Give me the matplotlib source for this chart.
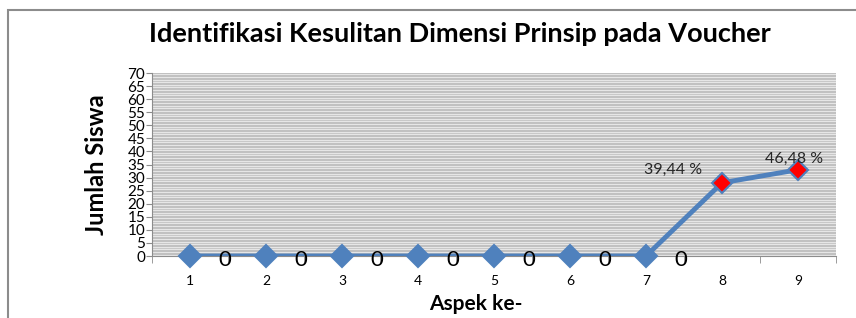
import matplotlib
matplotlib.use("Agg")
import matplotlib.pyplot as plt
from matplotlib.patches import Rectangle

categories = ["1", "2", "3", "4", "5", "6", "7", "8", "9"]
values = [0, 0, 0, 0, 0, 0, 0, 28, 33]
point_labels = ["0", "0", "0", "0", "0", "0", "0", "39,44 %", "46,48 %"]
highlight = [False] * 7 + [True, True]
yticks = list(range(0, 75, 5))

FONT = "Lato"
fig = plt.figure(figsize=(8.56, 3.18), dpi=100)
fig.patch.set_facecolor("white")

# outer chart border (top & left visible)
fig.add_artist(Rectangle((8 / 856, -0.1), 1.0, (318 - 10) / 318 + 0.1, transform=fig.transFigure,
                         fill=False, edgecolor="#8c8c8c", linewidth=1.5))

ax = fig.add_axes([152 / 856, (318 - 256) / 318, (836 - 152) / 856, (256 - 73) / 318])
ax.set_facecolor("#b9b9b9")
x = list(range(1, len(categories) + 1))

# striped background
for yy in range(0, 70):
    ax.axhline(yy + 0.5, color="#e6e6e6", linewidth=1.0, zorder=0)

ax.plot(x, values, color="#4f81bd", linewidth=3.5, zorder=2)
for xi, v, h in zip(x, values, highlight):
    ax.plot(xi, v, marker="D", markersize=11 if not h else 10,
            markerfacecolor="red" if h else "#4f81bd",
            markeredgecolor="#4f81bd", markeredgewidth=1.5, zorder=3, clip_on=False)

for xi, v, lab, h in zip(x, values, point_labels, highlight):
    if h:
        if xi == 8:
            ax.annotate(lab, (xi, v), xytext=(-35, 4), textcoords="offset points",
                        ha="center", va="bottom", fontsize=11.5, family=FONT, color="#262626")
        else:
            ax.annotate(lab, (xi, v), xytext=(-3, 3), textcoords="offset points",
                        ha="center", va="bottom", fontsize=11.5, family=FONT, color="#262626")
    else:
        ax.annotate(lab, (xi, v), xytext=(25, -3), textcoords="offset points",
                    ha="center", va="center", fontsize=16, family=FONT, color="black")

ax.set_xlim(0.5, len(categories) + 0.5)
ax.set_ylim(0, 70)
ax.set_xticks(x)
ax.set_xticklabels(categories, family=FONT, fontsize=10)
ax.set_xticks([i + 0.5 for i in range(0, len(categories) + 1)], minor=True)
ax.tick_params(axis="x", which="major", length=0, pad=14)
ax.tick_params(axis="x", which="minor", length=5, color="#8c8c8c", direction="out")
ax.set_yticks(yticks)
ax.set_yticklabels([str(t) for t in yticks], family=FONT, fontsize=11)
ax.tick_params(axis="y", length=4, color="#8c8c8c", pad=1)

for s in ["top", "right"]:
    ax.spines[s].set_visible(False)
ax.spines["left"].set_color("#8c8c8c")
ax.spines["bottom"].set_color("#8c8c8c")

fig.text(460 / 856, 1 - 34 / 318, "Identifikasi Kesulitan Dimensi Prinsip pada Voucher",
         ha="center", va="center", fontsize=19.5, fontweight="bold", family=FONT)
fig.text(96 / 856, 1 - 165 / 318, "Jumlah Siswa", rotation=90, ha="center", va="center",
         fontsize=17, fontweight="bold", family=FONT)
fig.text(476 / 856, 1 - 304 / 318, "Aspek ke-", ha="center", va="center",
         fontsize=15, fontweight="bold", family=FONT)

fig.savefig("out.png", dpi=100)
